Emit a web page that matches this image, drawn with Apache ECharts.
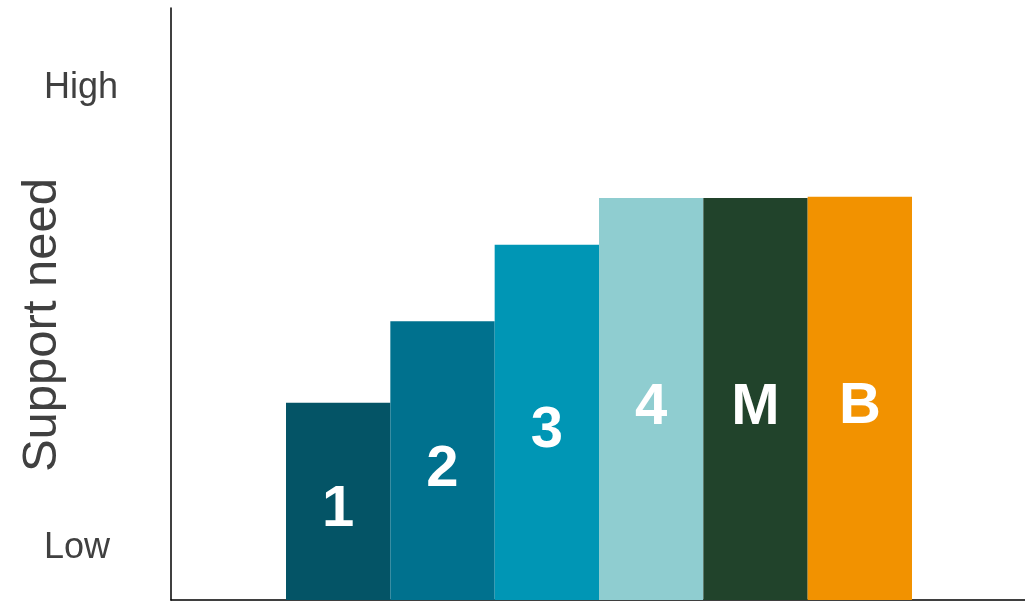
<!DOCTYPE html>
<html>
<head>
<meta charset="utf-8">
<script src="https://cdn.jsdelivr.net/npm/echarts@6/dist/echarts.min.js"></script>
<style>html,body{margin:0;padding:0;background:#fff;}#chart{width:1025px;height:602px;}</style>
</head>
<body>
<div id="chart"></div>
<script>
var categories = ['1', '2', '3', '4', 'M', 'B'];
var supportValues = [33.3, 47.1, 60.0, 67.9, 67.9, 68.1];
var barColors = ['#045466', '#00718E', '#0096B5', '#8FCDD0', '#21432B', '#F29200'];
var levelValues = [8.7, 86.5];
var levelLabels = ['Low', 'High'];
var axisTitle = 'Support need';

var chart = echarts.init(document.getElementById('chart'), null, {renderer: 'canvas'});
var font = 'Liberation Sans, Arial, Helvetica, sans-serif';
chart.setOption({
  animation: false,
  backgroundColor: '#ffffff',
  grid: [
    {left: 171, right: 0, top: 8, bottom: 2, outerBoundsMode: 'none', containLabel: false},
    {left: 286, right: 113, top: 8, bottom: 2, outerBoundsMode: 'none', containLabel: false}
  ],
  xAxis: [
    {gridIndex: 0, type: 'value', min: 0, max: 1,
     axisLine: {show: true, onZero: false, lineStyle: {color: '#000', width: 1.5}},
     axisTick: {show: false}, axisLabel: {show: false}, splitLine: {show: false}},
    {gridIndex: 1, type: 'category', data: categories,
     axisLine: {show: false}, axisTick: {show: false}, axisLabel: {show: false}}
  ],
  yAxis: [
    {gridIndex: 0, type: 'value', min: 0, max: 100,
     name: axisTitle, nameLocation: 'middle', nameRotate: 90, nameGap: 104,
     nameMoveOverlap: false,
     nameTextStyle: {fontFamily: font, fontSize: 49, color: '#404040', padding: [0, 42, 0, 0]},
     axisLine: {show: true, onZero: false, lineStyle: {color: '#000', width: 1.5}},
     axisTick: {show: false}, splitLine: {show: false},
     axisLabel: {
       customValues: levelValues,
       margin: 127, align: 'left',
       fontFamily: font, fontSize: 36, color: '#404040',
       formatter: function (v) {
         var i = levelValues.indexOf(v);
         return i >= 0 ? levelLabels[i] : '';
       }
     }},
    {gridIndex: 1, type: 'value', min: 0, max: 100, show: false}
  ],
  series: [{
    type: 'bar',
    xAxisIndex: 1, yAxisIndex: 1,
    barCategoryGap: 0,
    data: supportValues.map(function (v, i) {
      return {value: v, itemStyle: {color: barColors[i]}};
    }),
    label: {
      show: true, position: 'inside', offset: [0, 9],
      formatter: function (p) { return categories[p.dataIndex]; },
      color: '#ffffff', fontFamily: font, fontWeight: 'bold', fontSize: 58
    }
  }]
});
</script>
</body>
</html>
